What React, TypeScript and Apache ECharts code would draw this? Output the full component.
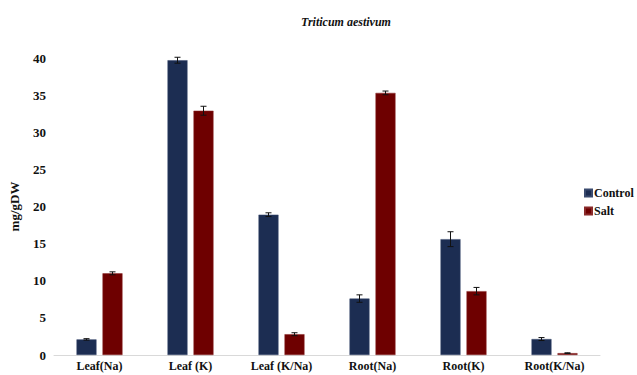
import React, { useEffect, useRef } from "react";
import * as echarts from "echarts";

const categories = ["Leaf(Na)", "Leaf (K)", "Leaf (K/Na)", "Root(Na)", "Root(K)", "Root(K/Na)"];
const controlValues = [2.1, 39.7, 18.9, 7.6, 15.6, 2.15];
const controlErrors = [0.1, 0.4, 0.25, 0.5, 1.0, 0.2];
const saltValues = [11.0, 32.9, 2.8, 35.3, 8.6, 0.25];
const saltErrors = [0.2, 0.6, 0.2, 0.25, 0.5, 0.05];
const yTicks = [0, 5, 10, 15, 20, 25, 30, 35, 40];

const SERIF = "'Liberation Serif', 'Times New Roman', serif";
const CONTROL_COLOR = "#1c2d52";
const SALT_COLOR = "#6e0000";

function errorSeries(name: string, values: number[], errors: number[], offset: number) {
  return {
    type: "custom",
    name: name + "-err",
    silent: true,
    z: 10,
    data: values.map((v, i) => [i, v, errors[i]]),
    renderItem: (params: any, api: any) => {
      const idx = api.value(0);
      const v = api.value(1);
      const e = api.value(2);
      const hi = api.coord([idx, v + e]);
      const lo = api.coord([idx, v - e]);
      const x = hi[0] + offset;
      const cap = 3;
      const style = { stroke: "#111", lineWidth: 1 };
      return {
        type: "group",
        children: [
          { type: "line", shape: { x1: x, y1: hi[1], x2: x, y2: lo[1] }, style },
          { type: "line", shape: { x1: x - cap, y1: hi[1], x2: x + cap, y2: hi[1] }, style },
          { type: "line", shape: { x1: x - cap, y1: lo[1], x2: x + cap, y2: lo[1] }, style },
        ],
      };
    },
  };
}

export default function App() {
  const ref = useRef<HTMLDivElement>(null);
  useEffect(() => {
    document.body.style.margin = "0";
    const chart = echarts.init(ref.current!, null, { renderer: "svg" });
    chart.setOption({
      animation: false,
      backgroundColor: "#ffffff",
      textStyle: { fontFamily: SERIF },
      title: {
        text: "Triticum aestivum",
        left: 341,
        top: 11,
        textAlign: "center",
        textStyle: { fontFamily: SERIF, fontStyle: "italic", fontWeight: "bold", fontSize: 12, color: "#111" },
      },
      legend: {
        orient: "vertical",
        left: 579,
        top: 182,
        itemWidth: 7,
        itemHeight: 7,
        itemGap: 6,
        data: ["Control", "Salt"],
        textStyle: { fontFamily: SERIF, fontWeight: "bold", fontSize: 12, color: "#111", padding: [0, 0, 0, -3] },
        icon: "rect",
      },
      grid: { left: 53, right: 37, top: 58, bottom: 20, containLabel: false },
      xAxis: {
        type: "category",
        data: categories,
        axisLine: { lineStyle: { color: "#d9d9d9", width: 1 } },
        axisTick: { show: false },
        axisLabel: { fontFamily: SERIF, fontWeight: "bold", fontSize: 12, color: "#111", margin: 5, interval: 0 },
      },
      yAxis: {
        type: "value",
        min: 0,
        max: 40,
        interval: 5,
        name: "mg/gDW",
        nameLocation: "middle",
        nameGap: 33,
        nameMoveOverlap: false,
        nameRotate: 90,
        nameTextStyle: { fontFamily: SERIF, fontWeight: "bold", fontSize: 13, color: "#111" },
        axisLine: { show: false },
        axisTick: { show: false },
        splitLine: { show: false },
        axisLabel: {
          fontFamily: SERIF,
          fontWeight: "bold",
          fontSize: 13,
          color: "#111",
          margin: 8,
          formatter: (v: number) => (yTicks.includes(v) ? String(v) : ""),
        },
      },
      series: [
        {
          name: "Control",
          type: "bar",
          data: controlValues,
          barWidth: 20,
          barGap: "30%",
          itemStyle: { color: CONTROL_COLOR, borderColor: "#3a4a6e", borderWidth: 0.5 },
        },
        {
          name: "Salt",
          type: "bar",
          data: saltValues,
          barWidth: 20,
          barGap: "30%",
          itemStyle: { color: SALT_COLOR, borderColor: "#8a2a2a", borderWidth: 0.5 },
        },
        errorSeries("Control", controlValues, controlErrors, -13),
        errorSeries("Salt", saltValues, saltErrors, 13),
      ],
    });
    return () => chart.dispose();
  }, []);
  return <div ref={ref} style={{ width: 637, height: 375, position: "absolute", left: 0, top: 0 }} />;
}
